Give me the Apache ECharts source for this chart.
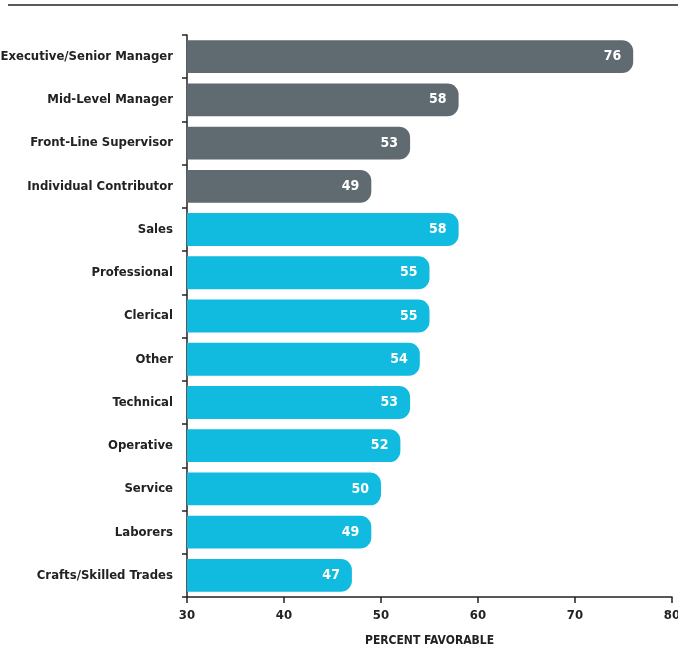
<!DOCTYPE html>
<html>
<head>
<meta charset="utf-8">
<script src="https://cdn.jsdelivr.net/npm/echarts@6/dist/echarts.min.js"></script>
<style>
html,body{margin:0;padding:0;background:#fff;}
#c{width:678px;height:652px;}
</style>
</head>
<body>
<div id="c"></div>
<script>
var categories = ["Executive/Senior Manager","Mid-Level Manager","Front-Line Supervisor","Individual Contributor","Sales","Professional","Clerical","Other","Technical","Operative","Service","Laborers","Crafts/Skilled Trades"];
var values = [76,58,53,49,58,55,55,54,53,52,50,49,47];
var groups = ["level","level","level","level","job","job","job","job","job","job","job","job","job"];
var xTicks = [30,40,50,60,70,80];
var groupColors = {level:"#5f6a71", job:"#10bbdf"};

var FONT = "'Liberation Sans Narrow','DejaVu Sans Condensed',sans-serif";
var chart = echarts.init(document.getElementById('c'), null, {renderer:'canvas'});
chart.setOption({
  animation:false,
  graphic:[{type:'line', shape:{x1:8,y1:5,x2:678,y2:5}, style:{stroke:'#5a5a5a', lineWidth:2}}],
  grid:{left:187, right:6, top:35, bottom:55, containLabel:false, outerBoundsMode:'none'},
  xAxis:{
    type:'value', min:xTicks[0], max:xTicks[xTicks.length-1], interval:10,
    name:'PERCENT FAVORABLE', nameLocation:'middle', nameGap:38,
    nameTextStyle:{fontFamily:FONT, fontWeight:'bold', fontSize:12, color:'#222'},
    axisLine:{show:true, lineStyle:{color:'#222', width:1.5}},
    axisTick:{show:true, length:6, lineStyle:{color:'#222', width:1.5}},
    axisLabel:{fontFamily:FONT, fontWeight:'bold', fontSize:13, color:'#222', margin:12},
    splitLine:{show:false}
  },
  yAxis:{
    type:'category', data:categories, inverse:true,
    axisLine:{show:true, lineStyle:{color:'#222', width:1.5}},
    axisTick:{show:true, length:5, lineStyle:{color:'#222', width:1.5}},
    axisLabel:{fontFamily:FONT, fontWeight:'bold', fontSize:13, color:'#222', margin:14}
  },
  series:[{
    type:'bar',
    data:values.map(function(v,i){return {value:v, itemStyle:{color:groupColors[groups[i]]}};}),
    barCategoryGap:'24%',
    itemStyle:{borderRadius:[0,11,11,0]},
    label:{show:true, position:'insideRight', distance:12, color:'#fff', fontFamily:FONT, fontWeight:'bold', fontSize:14}
  }]
});
</script>
</body>
</html>
